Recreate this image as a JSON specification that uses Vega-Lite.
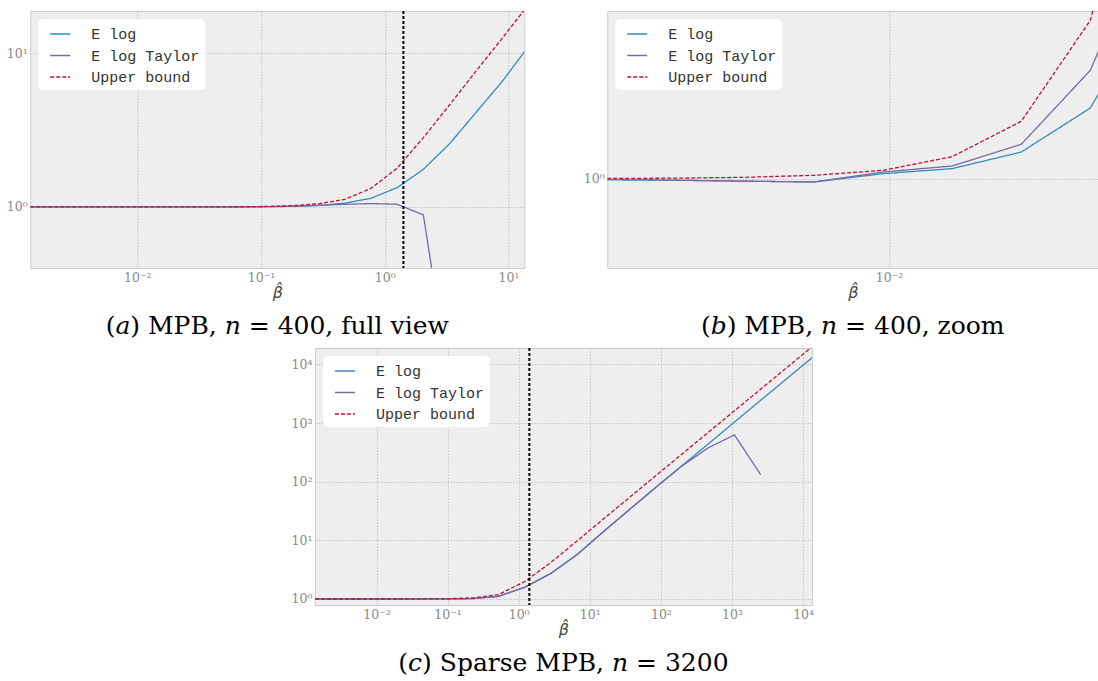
{
  "$schema": "https://vega.github.io/schema/vega-lite/v6.json",
  "background": "white",
  "padding": {"left": 5, "top": 9, "right": 0, "bottom": 0},
  "config": {
    "view": {"fill": "#EEEEEE", "stroke": "#CCCCCC", "strokeWidth": 1},
    "axis": {"grid": true, "gridColor": "#BBBBBB", "gridDash": [1.5, 1.5], "gridWidth": 0.8, "domain": false, "ticks": false, "labelFont": "DejaVu Serif", "labelFontSize": 12.5, "labelColor": "#8A8A8A", "labelPadding": 3, "titleFont": "DejaVu Sans", "titleFontSize": 16, "titleFontWeight": "normal", "titleFontStyle": "italic", "titleColor": "#444444", "titlePadding": 1},
    "legend": {"orient": "top-left", "offset": 8, "padding": 4, "fillColor": "white", "cornerRadius": 4, "strokeColor": "white", "labelFont": "Liberation Mono", "labelFontSize": 15, "labelColor": "#333333", "symbolType": "stroke", "symbolSize": 400, "symbolStrokeWidth": 1.3, "symbolOffset": 7, "rowPadding": 2.5, "labelOffset": 20, "labelLimit": 300},
    "title": {"font": "DejaVu Serif", "fontSize": 25, "fontWeight": "normal", "color": "black", "orient": "bottom", "anchor": "middle", "offset": 13}
  },
  "datasets": {
    "mpb": [
      {"beta": 0.001365, "series": "E log", "value": 0.999994},
      {"beta": 0.002223, "series": "E log", "value": 0.99999},
      {"beta": 0.003622, "series": "E log", "value": 0.999984},
      {"beta": 0.005893, "series": "E log", "value": 0.999979},
      {"beta": 0.009598, "series": "E log", "value": 1.0000316},
      {"beta": 0.01563, "series": "E log", "value": 1.0000632},
      {"beta": 0.02545, "series": "E log", "value": 1.000168},
      {"beta": 0.04146, "series": "E log", "value": 1.000446},
      {"beta": 0.06752, "series": "E log", "value": 1.0012},
      {"beta": 0.10995, "series": "E log", "value": 1.0031},
      {"beta": 0.1791, "series": "E log", "value": 1.0083},
      {"beta": 0.2916, "series": "E log", "value": 1.022},
      {"beta": 0.4749, "series": "E log", "value": 1.058},
      {"beta": 0.7733, "series": "E log", "value": 1.138},
      {"beta": 1.2595, "series": "E log", "value": 1.336},
      {"beta": 2.0512, "series": "E log", "value": 1.758},
      {"beta": 3.341, "series": "E log", "value": 2.58},
      {"beta": 5.44, "series": "E log", "value": 4.11},
      {"beta": 8.859, "series": "E log", "value": 6.54},
      {"beta": 14.43, "series": "E log", "value": 11.05},
      {"beta": 0.001365, "series": "E log Taylor", "value": 0.999994},
      {"beta": 0.002223, "series": "E log Taylor", "value": 0.99999},
      {"beta": 0.003622, "series": "E log Taylor", "value": 0.999984},
      {"beta": 0.005893, "series": "E log Taylor", "value": 0.999979},
      {"beta": 0.009598, "series": "E log Taylor", "value": 1.000042},
      {"beta": 0.01563, "series": "E log Taylor", "value": 1.00008},
      {"beta": 0.02545, "series": "E log Taylor", "value": 1.000217},
      {"beta": 0.04146, "series": "E log Taylor", "value": 1.000684},
      {"beta": 0.06752, "series": "E log Taylor", "value": 1.0017},
      {"beta": 0.10995, "series": "E log Taylor", "value": 1.0045},
      {"beta": 0.1791, "series": "E log Taylor", "value": 1.011},
      {"beta": 0.2916, "series": "E log Taylor", "value": 1.024},
      {"beta": 0.4749, "series": "E log Taylor", "value": 1.04},
      {"beta": 0.7733, "series": "E log Taylor", "value": 1.051},
      {"beta": 1.2595, "series": "E log Taylor", "value": 1.041},
      {"beta": 2.0512, "series": "E log Taylor", "value": 0.887},
      {"beta": 3.341, "series": "E log Taylor", "value": 0.071},
      {"beta": 0.001365, "series": "Upper bound", "value": 1.000001},
      {"beta": 0.002223, "series": "Upper bound", "value": 1.000003},
      {"beta": 0.003622, "series": "Upper bound", "value": 1.0000084},
      {"beta": 0.005893, "series": "Upper bound", "value": 1.000021},
      {"beta": 0.009598, "series": "Upper bound", "value": 1.0000526},
      {"beta": 0.01563, "series": "Upper bound", "value": 1.000139},
      {"beta": 0.02545, "series": "Upper bound", "value": 1.000362},
      {"beta": 0.04146, "series": "Upper bound", "value": 1.001},
      {"beta": 0.06752, "series": "Upper bound", "value": 1.0026},
      {"beta": 0.10995, "series": "Upper bound", "value": 1.007},
      {"beta": 0.1791, "series": "Upper bound", "value": 1.0185},
      {"beta": 0.2916, "series": "Upper bound", "value": 1.048},
      {"beta": 0.4749, "series": "Upper bound", "value": 1.12},
      {"beta": 0.7733, "series": "Upper bound", "value": 1.32},
      {"beta": 1.2595, "series": "Upper bound", "value": 1.79},
      {"beta": 2.0512, "series": "Upper bound", "value": 2.83},
      {"beta": 3.341, "series": "Upper bound", "value": 4.63},
      {"beta": 5.44, "series": "Upper bound", "value": 7.64},
      {"beta": 8.859, "series": "Upper bound", "value": 12.5},
      {"beta": 14.43, "series": "Upper bound", "value": 20.7}
    ],
    "sparse": [
      {"beta": 0.001365, "series": "E log", "value": 1.0},
      {"beta": 0.003189, "series": "E log", "value": 1.0},
      {"beta": 0.007455, "series": "E log", "value": 1.00002},
      {"beta": 0.017418, "series": "E log", "value": 1.0001},
      {"beta": 0.04072, "series": "E log", "value": 1.0005},
      {"beta": 0.09517, "series": "E log", "value": 1.0025},
      {"beta": 0.2225, "series": "E log", "value": 1.013},
      {"beta": 0.5199, "series": "E log", "value": 1.11},
      {"beta": 1.215, "series": "E log", "value": 1.58},
      {"beta": 2.838, "series": "E log", "value": 2.72},
      {"beta": 6.637, "series": "E log", "value": 5.7},
      {"beta": 15.52, "series": "E log", "value": 14.0},
      {"beta": 36.22, "series": "E log", "value": 33.5},
      {"beta": 84.72, "series": "E log", "value": 80},
      {"beta": 198.2, "series": "E log", "value": 188},
      {"beta": 463.4, "series": "E log", "value": 440},
      {"beta": 1081, "series": "E log", "value": 1040},
      {"beta": 2529, "series": "E log", "value": 2450},
      {"beta": 5916, "series": "E log", "value": 5750},
      {"beta": 13836, "series": "E log", "value": 13500},
      {"beta": 0.001365, "series": "E log Taylor", "value": 1.0},
      {"beta": 0.003189, "series": "E log Taylor", "value": 1.0},
      {"beta": 0.007455, "series": "E log Taylor", "value": 1.00002},
      {"beta": 0.017418, "series": "E log Taylor", "value": 1.0001},
      {"beta": 0.04072, "series": "E log Taylor", "value": 1.0005},
      {"beta": 0.09517, "series": "E log Taylor", "value": 1.0025},
      {"beta": 0.2225, "series": "E log Taylor", "value": 1.013},
      {"beta": 0.5199, "series": "E log Taylor", "value": 1.11},
      {"beta": 1.215, "series": "E log Taylor", "value": 1.59},
      {"beta": 2.838, "series": "E log Taylor", "value": 2.74},
      {"beta": 6.637, "series": "E log Taylor", "value": 5.75},
      {"beta": 15.52, "series": "E log Taylor", "value": 14.1},
      {"beta": 36.22, "series": "E log Taylor", "value": 33.6},
      {"beta": 84.72, "series": "E log Taylor", "value": 80},
      {"beta": 198.2, "series": "E log Taylor", "value": 186},
      {"beta": 463.4, "series": "E log Taylor", "value": 378},
      {"beta": 1081, "series": "E log Taylor", "value": 630},
      {"beta": 2529, "series": "E log Taylor", "value": 132},
      {"beta": 0.001365, "series": "Upper bound", "value": 1.000002},
      {"beta": 0.003189, "series": "Upper bound", "value": 1.00001},
      {"beta": 0.007455, "series": "Upper bound", "value": 1.00006},
      {"beta": 0.017418, "series": "Upper bound", "value": 1.0003},
      {"beta": 0.04072, "series": "Upper bound", "value": 1.0016},
      {"beta": 0.09517, "series": "Upper bound", "value": 1.0085},
      {"beta": 0.2225, "series": "Upper bound", "value": 1.045},
      {"beta": 0.5199, "series": "Upper bound", "value": 1.19},
      {"beta": 1.215, "series": "Upper bound", "value": 1.98},
      {"beta": 2.838, "series": "Upper bound", "value": 4.2},
      {"beta": 6.637, "series": "Upper bound", "value": 9.8},
      {"beta": 15.52, "series": "Upper bound", "value": 23.1},
      {"beta": 36.22, "series": "Upper bound", "value": 54},
      {"beta": 84.72, "series": "Upper bound", "value": 127},
      {"beta": 198.2, "series": "Upper bound", "value": 297},
      {"beta": 463.4, "series": "Upper bound", "value": 695},
      {"beta": 1081, "series": "Upper bound", "value": 1620},
      {"beta": 2529, "series": "Upper bound", "value": 3790},
      {"beta": 5916, "series": "Upper bound", "value": 8870},
      {"beta": 13836, "series": "Upper bound", "value": 20750}
    ],
    "vline": [{"beta": 1.4142}]
  },
  "vconcat": [
    {
      "hconcat": [
        {
          "width": 494, "height": 257,
          "title": {"text": "(𝑎) MPB, 𝑛 = 400, full view"},
          "layer": [
            {
              "data": {"name": "mpb"},
              "mark": {"type": "line", "clip": true, "strokeWidth": 1.3},
              "encoding": {
                "x": {"field": "beta", "type": "quantitative", "scale": {"type": "log", "domain": [0.001365, 13.4], "nice": false}, "axis": {"values": [0.01, 0.1, 1, 10], "title": "\u03b2\u0302", "labelExpr": "'10' + replace(replace(replace(replace(replace(replace(toString(round(log(datum.value)/LN10)), '-', '⁻'), '0', '⁰'), '1', '¹'), '2', '²'), '3', '³'), '4', '⁴')"}},
                "y": {"field": "value", "type": "quantitative", "scale": {"type": "log", "domain": [0.4, 18.9], "nice": false}, "axis": {"values": [1, 10], "title": null, "labelExpr": "'10' + replace(replace(replace(replace(replace(replace(toString(round(log(datum.value)/LN10)), '-', '⁻'), '0', '⁰'), '1', '¹'), '2', '²'), '3', '³'), '4', '⁴')"}},
                "color": {"field": "series", "type": "nominal", "scale": {"domain": ["E log", "E log Taylor", "Upper bound"], "range": ["#348ABD", "#7A68A6", "#C3112F"]}, "legend": {"title": null}},
                "strokeDash": {"field": "series", "type": "nominal", "scale": {"domain": ["E log", "E log Taylor", "Upper bound"], "range": [[1, 0], [1, 0], [4, 2]]}, "legend": {"title": null}}
              }
            },
            {
              "data": {"name": "vline"},
              "mark": {"type": "rule", "color": "black", "strokeWidth": 2, "strokeDash": [3, 2]},
              "encoding": {"x": {"field": "beta", "type": "quantitative"}}
            }
          ]
        },
        {
          "width": 491, "height": 257,
          "title": {"text": "(𝑏) MPB, 𝑛 = 400, zoom"},
          "layer": [
            {
              "data": {"name": "mpb"},
              "mark": {"type": "line", "clip": true, "strokeWidth": 1.3},
              "encoding": {
                "x": {"field": "beta", "type": "quantitative", "scale": {"type": "log", "domain": [0.001365, 0.04385], "nice": false}, "axis": {"values": [0.01], "title": "\u03b2\u0302", "labelExpr": "'10' + replace(replace(replace(replace(replace(replace(toString(round(log(datum.value)/LN10)), '-', '⁻'), '0', '⁰'), '1', '¹'), '2', '²'), '3', '³'), '4', '⁴')"}},
                "y": {"field": "value", "type": "quantitative", "scale": {"type": "log", "domain": [0.999436, 1.001059], "nice": false, "zero": false}, "axis": {"values": [1], "title": null, "labelExpr": "'10⁰'"}},
                "color": {"field": "series", "type": "nominal", "scale": {"domain": ["E log", "E log Taylor", "Upper bound"], "range": ["#348ABD", "#7A68A6", "#C3112F"]}, "legend": {"title": null}},
                "strokeDash": {"field": "series", "type": "nominal", "scale": {"domain": ["E log", "E log Taylor", "Upper bound"], "range": [[1, 0], [1, 0], [4, 2]]}, "legend": {"title": null}}
              }
            }
          ]
        }
      ],
      "spacing": 57,
      "resolve": {"scale": {"x": "independent", "y": "independent", "color": "independent", "strokeDash": "independent"}, "axis": {"x": "independent", "y": "independent"}, "legend": {"color": "independent", "strokeDash": "independent"}}
    },
    {
      "width": 497, "height": 257,
      "title": {"text": "(𝑐) Sparse MPB, 𝑛 = 3200"},
      "layer": [
        {
          "data": {"name": "sparse"},
          "mark": {"type": "line", "clip": true, "strokeWidth": 1.3},
          "encoding": {
            "x": {"field": "beta", "type": "quantitative", "scale": {"type": "log", "domain": [0.001365, 13300], "nice": false}, "axis": {"values": [0.01, 0.1, 1, 10, 100, 1000, 10000], "title": "\u03b2\u0302", "labelExpr": "'10' + replace(replace(replace(replace(replace(replace(toString(round(log(datum.value)/LN10)), '-', '⁻'), '0', '⁰'), '1', '¹'), '2', '²'), '3', '³'), '4', '⁴')"}},
            "y": {"field": "value", "type": "quantitative", "scale": {"type": "log", "domain": [0.79, 19100], "nice": false}, "axis": {"values": [1, 10, 100, 1000, 10000], "title": null, "labelExpr": "'10' + replace(replace(replace(replace(replace(replace(toString(round(log(datum.value)/LN10)), '-', '⁻'), '0', '⁰'), '1', '¹'), '2', '²'), '3', '³'), '4', '⁴')"}},
            "color": {"field": "series", "type": "nominal", "scale": {"domain": ["E log", "E log Taylor", "Upper bound"], "range": ["#348ABD", "#7A68A6", "#C3112F"]}, "legend": {"title": null}},
            "strokeDash": {"field": "series", "type": "nominal", "scale": {"domain": ["E log", "E log Taylor", "Upper bound"], "range": [[1, 0], [1, 0], [4, 2]]}, "legend": {"title": null}}
          }
        },
        {
          "data": {"name": "vline"},
          "mark": {"type": "rule", "color": "black", "strokeWidth": 2, "strokeDash": [3, 2]},
          "encoding": {"x": {"field": "beta", "type": "quantitative"}}
        }
      ]
    }
  ],
  "spacing": 7,
  "center": true,
  "resolve": {"scale": {"x": "independent", "y": "independent", "color": "independent", "strokeDash": "independent"}, "axis": {"x": "independent", "y": "independent"}, "legend": {"color": "independent", "strokeDash": "independent"}}
}
